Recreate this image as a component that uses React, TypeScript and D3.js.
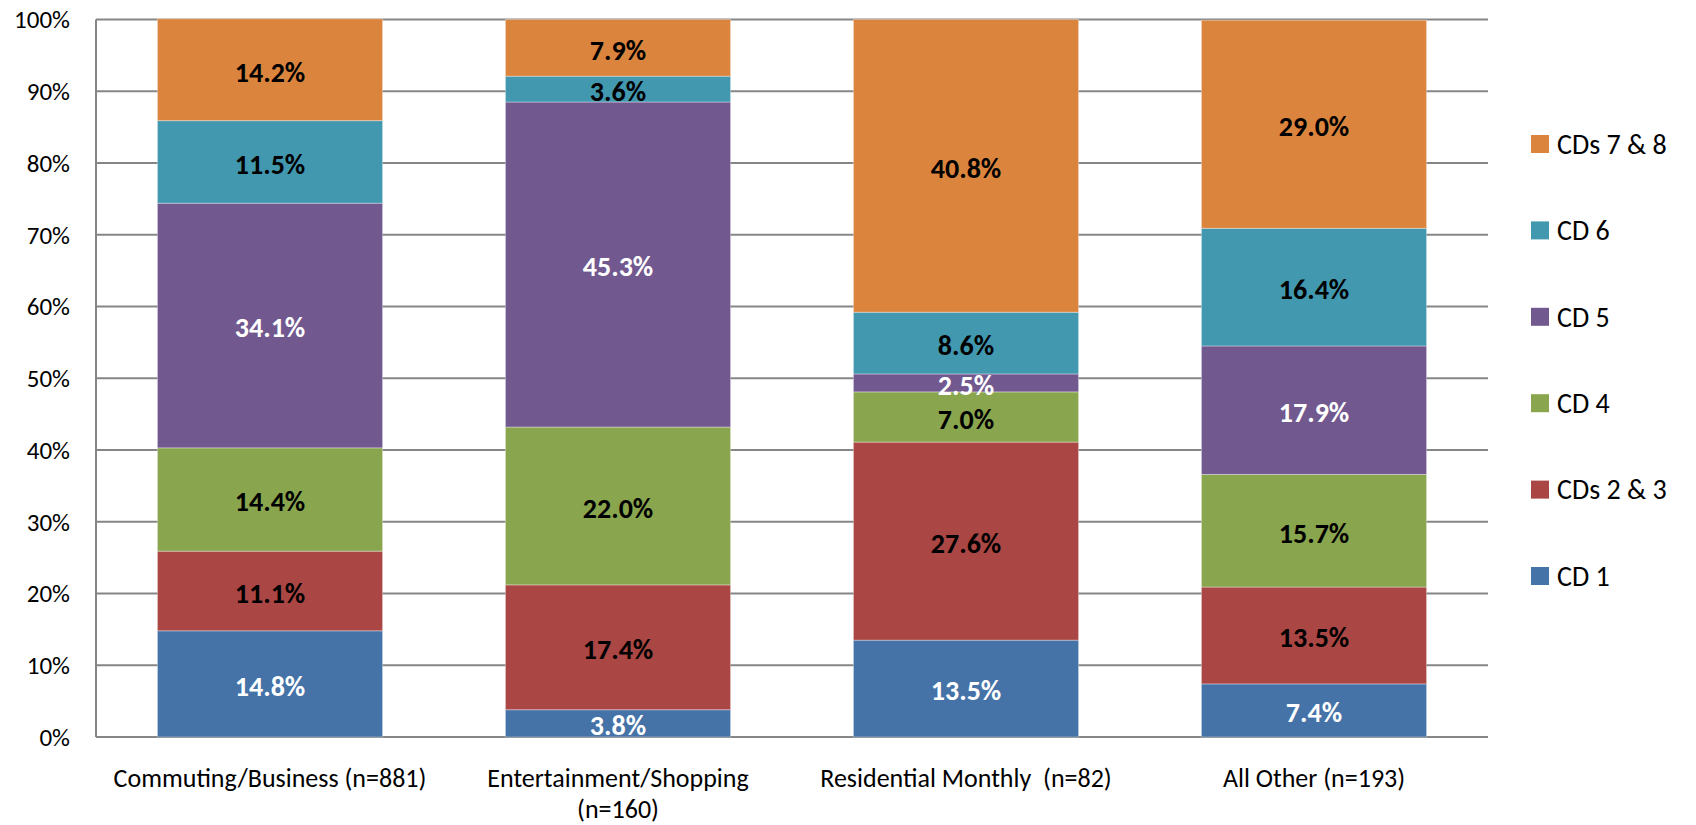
import * as d3 from 'd3';
import { useEffect, useRef } from 'react';

const categories = [
  ['Commuting/Business (n=881)'],
  ['Entertainment/Shopping', '(n=160)'],
  ['Residential Monthly  (n=82)'],
  ['All Other (n=193)'],
];
const seriesNames = ['CD 1', 'CDs 2 & 3', 'CD 4', 'CD 5', 'CD 6', 'CDs 7 & 8'];
const seriesColors = ['#4572A7', '#AA4643', '#89A54E', '#71588F', '#4198AF', '#DB843D'];
const labelColors = ['#fff', '#000', '#000', '#fff', '#000', '#000'];
const cd1 = [14.8, 3.8, 13.5, 7.4];
const cd23 = [11.1, 17.4, 27.6, 13.5];
const cd4 = [14.4, 22.0, 7.0, 15.7];
const cd5 = [34.1, 45.3, 2.5, 17.9];
const cd6 = [11.5, 3.6, 8.6, 16.4];
const cd78 = [14.2, 7.9, 40.8, 29.0];
const yTicks = [0, 10, 20, 30, 40, 50, 60, 70, 80, 90, 100];

const FONT = 'Calibri, Carlito, Lato, sans-serif';

const drawChart = (container: HTMLElement) => {
  const width = 1696;
  const height = 825;
  const left = 96;
  const right = 1488;
  const top = 19.5;
  const bottom = 737;

  const series = [cd1, cd23, cd4, cd5, cd6, cd78];
  const rows = categories.map((c, i) => {
    const row: any = { key: i };
    seriesNames.forEach((s, j) => { row[s] = series[j][i]; });
    return row;
  });
  const stacked = d3.stack<any>().keys(seriesNames)(rows);

  const x = d3.scaleBand<number>()
    .domain(d3.range(categories.length))
    .range([left, right])
    .paddingInner(0.353)
    .paddingOuter(0.1765);
  const y = d3.scaleLinear().domain([0, 100]).range([bottom, top]);

  const svg = d3.select(container).append('svg')
    .attr('width', width)
    .attr('height', height)
    .attr('viewBox', `0 0 ${width} ${height}`)
    .style('position', 'absolute')
    .style('left', '0px')
    .style('top', '0px')
    .style('font-family', FONT);

  // gridlines
  svg.append('g')
    .selectAll('line')
    .data(yTicks)
    .join('line')
    .attr('x1', left)
    .attr('x2', right)
    .attr('y1', d => y(d))
    .attr('y2', d => y(d))
    .attr('stroke', '#868686')
    .attr('stroke-width', 2);

  svg.append('line')
    .attr('x1', left).attr('x2', left)
    .attr('y1', top).attr('y2', bottom)
    .attr('stroke', '#868686')
    .attr('stroke-width', 2);

  svg.append('g')
    .selectAll('text')
    .data(yTicks)
    .join('text')
    .attr('x', left - 26)
    .attr('y', d => y(d))
    .attr('dy', '0.35em')
    .attr('text-anchor', 'end')
    .attr('font-size', 25)
    .text(d => `${d}%`);

  // bars
  const layers = svg.append('g')
    .selectAll('g')
    .data(stacked)
    .join('g')
    .attr('fill', (d, i) => seriesColors[i]);

  layers.selectAll('rect')
    .data(d => d)
    .join('rect')
    .attr('x', (d: any) => x(d.data.key)!)
    .attr('width', x.bandwidth())
    .attr('y', d => y(d[1]))
    .attr('height', d => y(d[0]) - y(d[1]))
    .attr('stroke', 'rgba(255,255,255,0.35)')
    .attr('stroke-width', 1);

  // data labels
  svg.append('g')
    .selectAll('g')
    .data(stacked)
    .join('g')
    .attr('fill', (d, i) => labelColors[i])
    .selectAll('text')
    .data(d => d)
    .join('text')
    .attr('x', (d: any) => x(d.data.key)! + x.bandwidth() / 2)
    .attr('y', d => y((d[0] + d[1]) / 2) + 2)
    .attr('dy', '0.35em')
    .attr('text-anchor', 'middle')
    .attr('font-size', 28)
    .attr('font-weight', 'bold')
    .text(d => `${(d[1] - d[0]).toFixed(1)}%`);

  // category labels, one text per line
  const cat = svg.append('g')
    .selectAll('g')
    .data(categories)
    .join('g')
    .attr('transform', (d, i) => `translate(${x(i)! + x.bandwidth() / 2}, 787)`);
  cat.selectAll('text')
    .data(d => d)
    .join('text')
    .attr('x', 0)
    .attr('y', (d, i) => i * 31)
    .attr('text-anchor', 'middle')
    .attr('font-size', 26)
    .style('white-space', 'pre')
    .text(d => d);

  // legend
  const legend = svg.append('g')
    .selectAll('g')
    .data(seriesNames.slice().reverse())
    .join('g')
    .attr('transform', (d, i) => `translate(1531, ${144 + i * 86.4})`);
  legend.append('rect')
    .attr('x', 0)
    .attr('y', -9)
    .attr('width', 18)
    .attr('height', 18)
    .attr('fill', d => seriesColors[seriesNames.indexOf(d)]);
  legend.append('text')
    .attr('x', 26)
    .attr('y', 0)
    .attr('dy', '0.35em')
    .attr('font-size', 28)
    .text(d => d);

  return svg.node();
};

export default function App() {
  const domRef = useRef<HTMLDivElement>(null);
  useEffect(() => {
    if (domRef.current) {
      drawChart(domRef.current);
    }
    return () => {
      d3.select(domRef.current).selectAll('svg').remove();
    };
  }, [domRef]);
  return <div ref={domRef}></div>;
}
